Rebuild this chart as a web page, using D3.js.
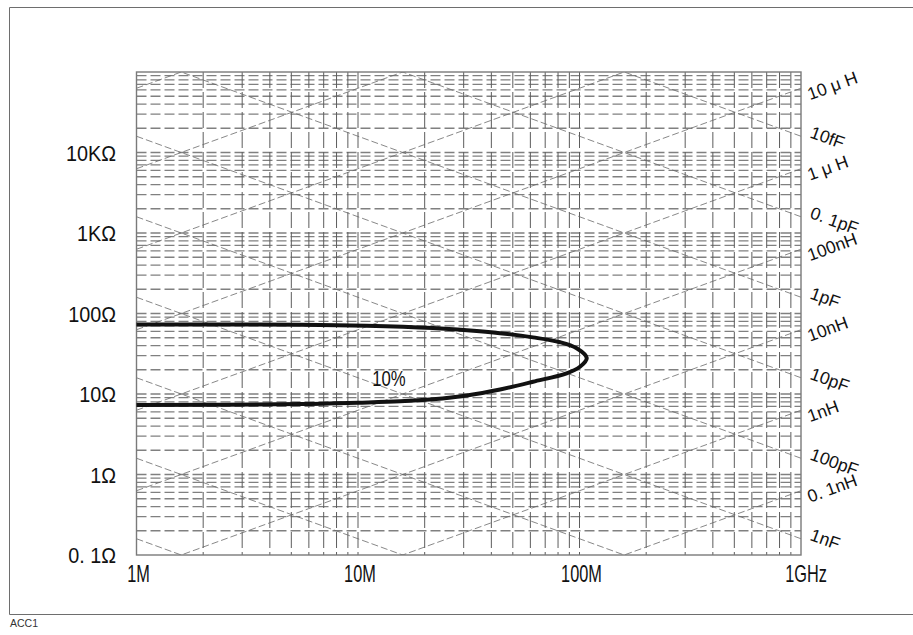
<!DOCTYPE html>
<html>
<head>
<meta charset="utf-8">
<script src="https://cdn.jsdelivr.net/npm/d3@7"></script>
<style>
  body { margin: 0; background: #fff; }
  svg { display: block; }
</style>
</head>
<body>
<svg id="chart" width="913" height="635"></svg>
<script>
// Frequency axis (MHz) and impedance axis (Ω)
const freqTicks = [1, 10, 100, 1000];
const freqTickLabels = ["1M", "10M", "100M", "1GHz"];
const zTicks = [0.1, 1, 10, 100, 1000, 10000];
const zTickLabels = ["0. 1Ω", "1Ω", "10Ω", "100Ω", "1KΩ", "10KΩ"];

// Constant-inductance / constant-capacitance reference lines (H, F)
const inductanceLines = [1e-12, 1e-11, 1e-10, 1e-9, 1e-8, 1e-7, 1e-6, 1e-5, 1e-4, 1e-3, 1e-2, 1e-1];
const capacitanceLines = [1e-16, 1e-15, 1e-14, 1e-13, 1e-12, 1e-11, 1e-10, 1e-9, 1e-8, 1e-7, 1e-6, 1e-5];

// Labels printed at the 1 GHz edge
const inductanceLabelValues = [1e-5, 1e-6, 1e-7, 1e-8, 1e-9, 1e-10];
const inductanceLabels = ["10 μ H", "1 μ H", "100nH", "10nH", "1nH", "0. 1nH"];
const capacitanceLabelValues = [1e-14, 1e-13, 1e-12, 1e-11, 1e-10, 1e-9];
const capacitanceLabels = ["10fF", "0. 1pF", "1pF", "10pF", "100pF", "1nF"];

// 10% accuracy contour: upper branch out to the tip, then lower branch back
const contourFreq = [1, 5.5, 10.9, 21.8, 31, 43.8, 61.7, 81.7, 97.1, 107.8, 100.5, 87.5, 61.7, 43.8, 31, 21.8, 15.5, 10, 5.5, 1];
const contourZ    = [73, 72.5, 70.5, 66, 62, 57, 50.5, 44, 37, 28, 21.8, 18.1, 14.2, 11.4, 9.6, 8.6, 8.1, 7.8, 7.5, 7.3];
const contourLabel = "10%";
const contourLabelAt = { f: 11.6, z: 12.6 };

const svg = d3.select("#chart");
const W = 913, H = 635;
const plot = { left: 136.5, right: 801, top: 72, bottom: 555 };
const FONT = "Liberation Sans, Arial, sans-serif";

const x = d3.scaleLog().domain([1, 1000]).range([plot.left, plot.right]);
const y = d3.scaleLog().domain([0.1, 1e5]).range([plot.bottom, plot.top]);

// outer frame and footer
svg.append("path")
  .attr("d", `M${W + 5},7.5 H9.5 V614.5 H${W + 5}`)
  .attr("fill", "none").attr("stroke", "#6e6e6e").attr("stroke-width", 1);
svg.append("text")
  .attr("x", 10).attr("y", 627)
  .attr("font-family", FONT)
  .attr("font-size", 10.5).attr("fill", "#333")
  .text("ACC1");

svg.append("defs").append("clipPath").attr("id", "plotClip")
  .append("rect")
  .attr("x", plot.left).attr("y", plot.top)
  .attr("width", plot.right - plot.left).attr("height", plot.bottom - plot.top);

// log grid values: 1..9 per decade
function logGrid(lo, hi) {
  const out = [];
  for (let e = Math.log10(lo); e < Math.log10(hi); e++) {
    for (let m = 1; m <= 9; m++) out.push(m * Math.pow(10, e));
  }
  return out;
}

const grid = svg.append("g").attr("clip-path", "url(#plotClip)");

grid.selectAll("line.h").data(logGrid(0.1, 1e5).filter(v => v > 0.1))
  .join("line").attr("class", "h")
  .attr("x1", plot.left).attr("x2", plot.right)
  .attr("y1", d => y(d)).attr("y2", d => y(d))
  .attr("stroke", "#808080").attr("stroke-width", 1.3)
  .attr("stroke-dasharray", "10,4");

grid.selectAll("line.v").data(logGrid(1, 1000).filter(v => v > 1))
  .join("line").attr("class", "v")
  .attr("y1", plot.top).attr("y2", plot.bottom)
  .attr("x1", d => x(d)).attr("x2", d => x(d))
  .attr("stroke", "#5c5c5c").attr("stroke-width", 1)
  .attr("stroke-dasharray", "16,4");

// |Z| of an inductor / capacitor at f (MHz)
const zL = (f, L) => 2 * Math.PI * f * 1e6 * L;
const zC = (f, C) => 1 / (2 * Math.PI * f * 1e6 * C);

const diag = svg.append("g").attr("clip-path", "url(#plotClip)")
  .attr("fill", "none").attr("stroke", "#6a6a6a")
  .attr("stroke-width", 0.8).attr("stroke-dasharray", "7,3");

diag.selectAll("line.l").data(inductanceLines).join("line").attr("class", "l")
  .attr("x1", x(1)).attr("x2", x(1000))
  .attr("y1", L => y(zL(1, L))).attr("y2", L => y(zL(1000, L)));

diag.selectAll("line.c").data(capacitanceLines).join("line").attr("class", "c")
  .attr("x1", x(1)).attr("x2", x(1000))
  .attr("y1", C => y(zC(1, C))).attr("y2", C => y(zC(1000, C)));

// plot border
svg.append("rect")
  .attr("x", plot.left).attr("y", plot.top)
  .attr("width", plot.right - plot.left).attr("height", plot.bottom - plot.top)
  .attr("fill", "none").attr("stroke", "#7a7a7a").attr("stroke-width", 1.4);

// accuracy contour
const contour = contourFreq.map((f, i) => [f, contourZ[i]]);
svg.append("path")
  .datum(contour)
  .attr("d", d3.line().x(d => x(d[0])).y(d => y(d[1])).curve(d3.curveCatmullRom.alpha(0.5)))
  .attr("fill", "none").attr("stroke", "#111").attr("stroke-width", 4)
  .attr("stroke-linejoin", "round").attr("stroke-linecap", "butt");

svg.append("text")
  .attr("transform", `translate(${x(contourLabelAt.f)},${y(contourLabelAt.z)}) scale(0.76,1)`)
  .attr("font-family", FONT)
  .attr("font-size", 22).attr("fill", "#111")
  .text(contourLabel);

// impedance axis labels
svg.append("g").selectAll("text").data(zTicks).join("text")
  .attr("transform", d => `translate(116,${y(d)}) scale(0.88,1)`)
  .attr("dy", "0.36em")
  .attr("text-anchor", "end")
  .attr("font-family", FONT)
  .attr("font-size", 22.5).attr("fill", "#111")
  .text((d, i) => zTickLabels[i]);

// frequency axis labels (condensed)
svg.append("g").selectAll("text").data(freqTicks).join("text")
  .attr("transform", (d, i) => `translate(${x(d) + (i === 3 ? 5 : 2)},581.5) scale(0.71,1)`)
  .attr("text-anchor", "middle")
  .attr("font-family", FONT)
  .attr("font-size", 23).attr("fill", "#111")
  .text((d, i) => freqTickLabels[i]);

// slanted L / C labels at the right edge
const rightLabels = svg.append("g")
  .attr("font-family", FONT)
  .attr("font-size", 17.5).attr("fill", "#111");

rightLabels.selectAll("text.l").data(inductanceLabelValues).join("text").attr("class", "l")
  .attr("transform", L => `translate(810,${y(zL(1000, L)) + 12}) rotate(-20)`)
  .text((d, i) => inductanceLabels[i]);

rightLabels.selectAll("text.c").data(capacitanceLabelValues).join("text").attr("class", "c")
  .attr("transform", C => `translate(809,${y(zC(1000, C)) + 1}) rotate(20)`)
  .text((d, i) => capacitanceLabels[i]);
</script>
</body>
</html>
